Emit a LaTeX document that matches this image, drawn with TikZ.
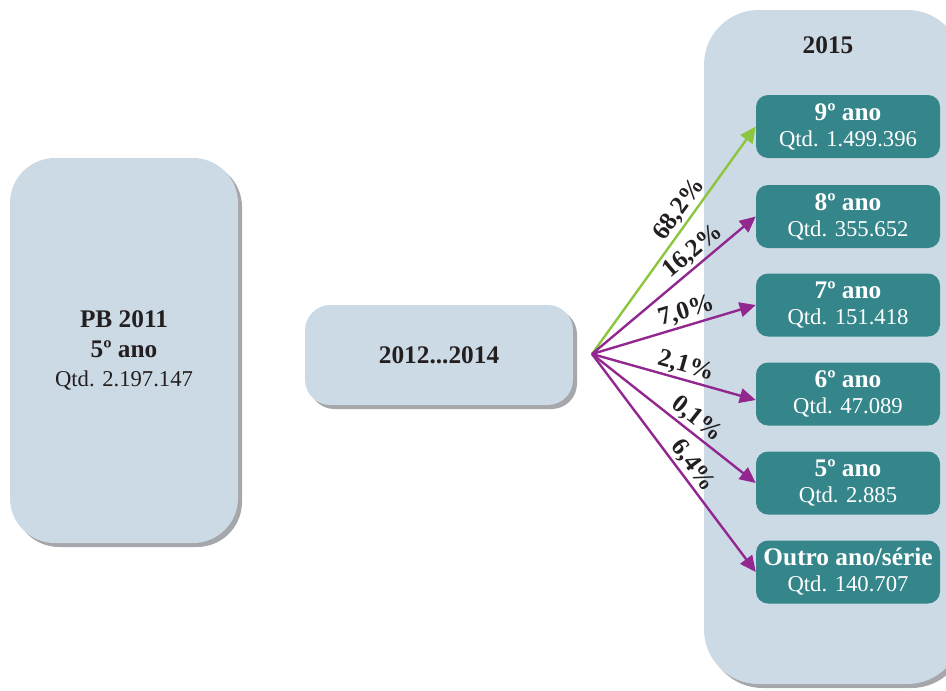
\documentclass[tikz,border=0pt]{standalone}
\usepackage{fontspec}
\setmainfont{Liberation Serif}
\usetikzlibrary{shadows,arrows.meta}
\definecolor{boxblue}{HTML}{CCDAE5}
\definecolor{tealbox}{HTML}{35868B}
\definecolor{shadowgray}{HTML}{A5A7AA}
\definecolor{arrgreen}{HTML}{8CC63F}
\definecolor{arrpurple}{HTML}{92278F}
\definecolor{txtdark}{HTML}{231F20}
\begin{document}
\begin{tikzpicture}[x=0.75pt,y=-0.75pt,
  panel/.style={fill=boxblue, draw=none, text=txtdark, align=center, inner sep=0pt,
    copy shadow={shadow xshift=3pt, shadow yshift=-3pt, fill=shadowgray, draw=none}},
  grade/.style={fill=tealbox, draw=none, rounded corners=9pt, minimum width=138pt,
    minimum height=47.25pt, text=white, align=center, inner sep=0pt,
    font=\fontsize{17}{19.5}\selectfont},
  bigtxt/.style={font=\bfseries\fontsize{19}{21}\selectfont},
  flow/.style={line width=1.8pt, -{Triangle[length=12pt,width=11pt]}},
  pct/.style={sloped, above, inner sep=1.5pt, text=txtdark, font=\bfseries\fontsize{19}{20}\selectfont}
]
\useasboundingbox (0,0) rectangle (946,690);
\begin{scope}
\clip (0,0) rectangle (946,690);
% panels
\node[panel, rounded corners=41pt, minimum width=193.5pt, minimum height=505.5pt] (p2015) at (833,347) {};
\end{scope}
\node[panel, rounded corners=33.75pt, minimum width=171pt, minimum height=288.75pt,
  font=\fontsize{17}{22}\selectfont] (pb) at (124,350.5)
  {{\bfseries\fontsize{19}{22}\selectfont PB 2011}\\{\bfseries\fontsize{19}{22}\selectfont 5º ano}\\Qtd. 2.197.147};
\node[panel, rounded corners=19pt, minimum width=201pt, minimum height=75pt, bigtxt] (mid) at (439,355) {2012...2014};
\node[bigtxt, text=txtdark] (y2015) at (828,45) {2015};
% grade boxes
\node[grade] (g9) at (848,126.5) {{\bfseries\fontsize{19}{19.5}\selectfont 9º ano}\\Qtd. 1.499.396};
\node[grade] (g8) at (848,216.5) {{\bfseries\fontsize{19}{19.5}\selectfont 8º ano}\\Qtd. 355.652};
\node[grade] (g7) at (848,305) {{\bfseries\fontsize{19}{19.5}\selectfont 7º ano}\\Qtd. 151.418};
\node[grade] (g6) at (848,394) {{\bfseries\fontsize{19}{19.5}\selectfont 6º ano}\\Qtd. 47.089};
\node[grade] (g5) at (848,483) {{\bfseries\fontsize{19}{19.5}\selectfont 5º ano}\\Qtd. 2.885};
\node[grade] (go) at (848,572) {{\bfseries\fontsize{19}{19.5}\selectfont Outro ano/série}\\Qtd. 140.707};
% arrows
\coordinate (hub) at (592,354);
\draw[flow, arrgreen] (hub) -- node[pct, pos=0.6] {68,2\%} (g9.west);
\draw[flow, arrpurple] (hub) -- node[pct, pos=0.67] {16,2\%} (g8.west);
\draw[flow, arrpurple] (hub) -- node[pct, pos=0.6] {7,0\%} (g7.west);
\draw[flow, arrpurple] (hub) -- node[pct, pos=0.55] {2,1\%} ([yshift=-4.5pt]g6.west);
\draw[flow, arrpurple] (hub) -- node[pct, pos=0.59] {0,1\%} (g5.west);
\draw[flow, arrpurple] (hub) -- node[pct, pos=0.55] {6,4\%} (go.west);
\end{tikzpicture}
\end{document}
